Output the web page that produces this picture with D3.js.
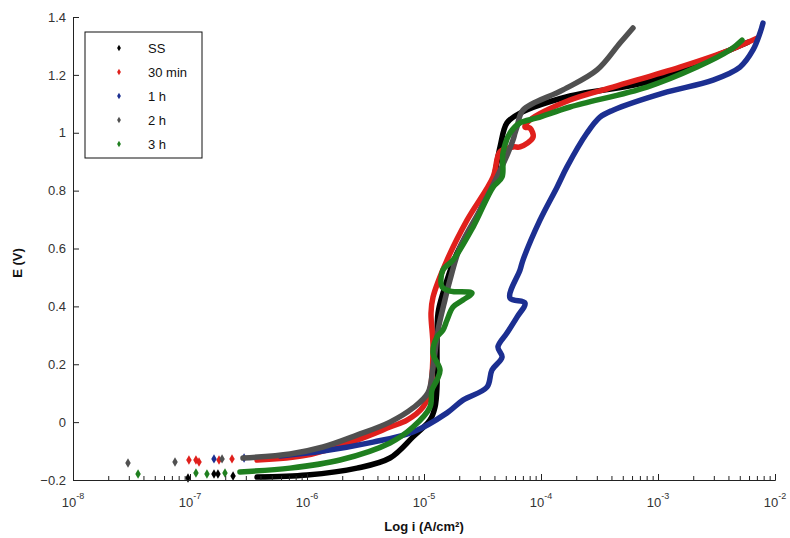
<!DOCTYPE html>
<html>
<head>
<meta charset="utf-8">
<script src="https://cdn.jsdelivr.net/npm/d3@7"></script>
<style>
  body { margin: 0; background: #fff; }
  text { font-family: "Liberation Sans", Arial, sans-serif; }
</style>
</head>
<body>
<div id="chart"></div>
<script>
// series names + colours (legend order)
var seriesNames = ["SS", "30 min", "1 h", "2 h", "3 h"];
var seriesColors = ["#000000", "#e0201c", "#1c2f91", "#505050", "#1f7f1f"];

// values are log10(i) and E (V)
// scattered points at low current (drawn as single markers)
var ssTailLogI = [-7.017, -6.795, -6.761, -6.632];
var ssTailE    = [-0.193, -0.179, -0.179, -0.186];
var m30TailLogI = [-7.009, -6.949, -6.923, -6.752, -6.641];
var m30TailE    = [-0.131, -0.131, -0.138, -0.131, -0.127];
var h1TailLogI = [-6.795, -6.538];
var h1TailE    = [-0.127, -0.124];
var h2TailLogI = [-7.530, -7.128, -6.726];
var h2TailE    = [-0.141, -0.138, -0.127];
var h3TailLogI = [-7.444, -6.949, -6.855, -6.701];
var h3TailE    = [-0.179, -0.176, -0.179, -0.176];

// continuous parts
var ssLogI = [-6.427, -6.0, -5.573, -5.291, -5.094, -4.949, -4.906, -4.889, -4.889, -4.880, -4.838, -4.718, -4.547, -4.410, -4.350, -4.291, -4.179, -3.752, -3.094, -2.530, -2.231];
var ssE    = [-0.190, -0.183, -0.159, -0.124, -0.051, 0.007, 0.052, 0.121, 0.260, 0.377, 0.446, 0.584, 0.709, 0.837, 0.951, 1.034, 1.068, 1.127, 1.175, 1.262, 1.313];

var m30LogI = [-6.427, -6.0, -5.573, -5.291, -5.145, -5.009, -4.949, -4.923, -4.940, -4.923, -4.803, -4.632, -4.410, -4.350, -4.239, -4.179, -4.068, -4.094, -4.137, -4.094, -3.752, -3.385, -2.812, -2.385, -2.154];
var m30E    = [-0.131, -0.114, -0.062, -0.017, 0.007, 0.052, 0.111, 0.260, 0.377, 0.432, 0.560, 0.698, 0.847, 0.935, 0.951, 0.951, 0.985, 1.016, 1.020, 1.044, 1.113, 1.158, 1.227, 1.286, 1.327];

var h1LogI = [-6.231, -5.863, -5.436, -5.094, -4.803, -4.667, -4.462, -4.419, -4.333, -4.368, -4.291, -4.205, -4.137, -4.265, -4.179, -4.154, -4.009, -3.863, -3.778, -3.607, -3.496, -3.385, -2.957, -2.530, -2.299, -2.188, -2.128, -2.103];
var h1E    = [-0.117, -0.100, -0.069, -0.034, 0.032, 0.076, 0.121, 0.180, 0.225, 0.260, 0.308, 0.363, 0.412, 0.429, 0.526, 0.560, 0.698, 0.812, 0.882, 0.999, 1.054, 1.078, 1.137, 1.182, 1.227, 1.286, 1.345, 1.379];

var h2LogI = [-6.547, -6.145, -5.863, -5.573, -5.291, -5.094, -4.966, -4.923, -4.880, -4.821, -4.778, -4.692, -4.521, -4.376, -4.282, -4.239, -4.222, -4.205, -4.154, -3.812, -3.521, -3.325, -3.214];
var h2E    = [-0.124, -0.110, -0.086, -0.045, 0.0, 0.049, 0.101, 0.190, 0.318, 0.422, 0.491, 0.605, 0.733, 0.847, 0.930, 0.975, 0.999, 1.020, 1.078, 1.148, 1.217, 1.310, 1.362];

var h3LogI = [-6.573, -6.145, -5.718, -5.291, -5.094, -4.949, -4.932, -4.889, -4.863, -4.923, -4.889, -4.838, -4.803, -4.752, -4.667, -4.590, -4.778, -4.846, -4.838, -4.752, -4.581, -4.410, -4.333, -4.325, -4.265, -4.179, -4.034, -3.752, -3.094, -2.667, -2.385, -2.282];
var h3E    = [-0.172, -0.159, -0.131, -0.072, -0.017, 0.052, 0.111, 0.146, 0.180, 0.239, 0.294, 0.318, 0.353, 0.398, 0.422, 0.446, 0.453, 0.467, 0.526, 0.560, 0.674, 0.812, 0.847, 0.930, 0.999, 1.034, 1.051, 1.089, 1.158, 1.227, 1.286, 1.320];

var xTickExp = [-8, -7, -6, -5, -4, -3, -2];
var yTicks = [-0.2, 0, 0.2, 0.4, 0.6, 0.8, 1, 1.2, 1.4];

var curveLogI = [ssLogI, m30LogI, h1LogI, h2LogI, h3LogI];
var curveE = [ssE, m30E, h1E, h2E, h3E];
var tailLogI = [ssTailLogI, m30TailLogI, h1TailLogI, h2TailLogI, h3TailLogI];
var tailE = [ssTailE, m30TailE, h1TailE, h2TailE, h3TailE];

var W = 790, H = 538;
var margin = {top: 17, right: 15, bottom: 58, left: 73};
var width = W - margin.left - margin.right,
    height = H - margin.top - margin.bottom;

var svg = d3.select("#chart").append("svg")
    .attr("width", W)
    .attr("height", H)
  .append("g")
    .attr("transform", "translate(" + margin.left + "," + margin.top + ")");

var x = d3.scaleLog().domain([1e-8, 1e-2]).range([0, width]);
var y = d3.scaleLinear().domain([-0.2, 1.4]).range([height, 0]);

function toPoints(li, e) {
    var pts = [];
    for (var i = 0; i < li.length; i++) pts.push({i: Math.pow(10, li[i]), e: e[i]});
    return pts;
}

var line = d3.line()
    .x(function(d) { return x(d.i); })
    .y(function(d) { return y(d.e); })
    .curve(d3.curveCatmullRom.alpha(0.5));

var diamond = d3.symbol().type(d3.symbolDiamond).size(26);

// curves, drawn in legend order so 3 h ends on top
for (var s = 0; s < seriesNames.length; s++) {
    svg.append("path")
        .datum(toPoints(curveLogI[s], curveE[s]))
        .attr("d", line)
        .attr("fill", "none")
        .attr("stroke", seriesColors[s])
        .attr("stroke-width", 5.5)
        .attr("stroke-linejoin", "round")
        .attr("stroke-linecap", "round");

    svg.selectAll(".tail" + s)
        .data(toPoints(tailLogI[s], tailE[s]))
        .enter().append("path")
        .attr("class", "tail" + s)
        .attr("d", diamond)
        .attr("transform", function(d) { return "translate(" + x(d.i) + "," + y(d.e) + ")"; })
        .attr("fill", seriesColors[s]);
}

// x axis, ticks pointing inward
var minor = [];
xTickExp.slice(0, -1).forEach(function(p) {
    for (var k = 2; k <= 9; k++) minor.push(k * Math.pow(10, p));
});
var xAxis = svg.append("g")
    .attr("transform", "translate(0," + height + ")");
xAxis.call(d3.axisBottom(x)
    .tickValues(xTickExp.map(function(p) { return Math.pow(10, p); }))
    .tickSize(-6).tickFormat(""));
xAxis.append("g").call(d3.axisBottom(x).tickValues(minor).tickSize(-4).tickFormat(""))
    .select(".domain").remove();
xAxis.selectAll(".domain, line").attr("stroke", "#222");

// tick labels 10^n
xTickExp.forEach(function(p) {
    var t = svg.append("text")
        .attr("x", x(Math.pow(10, p)))
        .attr("y", height + 27)
        .attr("text-anchor", "middle")
        .attr("font-size", 13)
        .attr("fill", "#333");
    t.append("tspan").text("10");
    t.append("tspan").attr("dy", -8).attr("font-size", 9).text(p);
});

// y axis
var yAxis = svg.append("g")
    .call(d3.axisLeft(y).tickValues(yTicks).tickSize(-6).tickPadding(10)
        .tickFormat(function(d) { return d3.format("")(+d.toFixed(1)); }));
yAxis.selectAll(".domain, line").attr("stroke", "#222");
yAxis.selectAll("text")
    .attr("font-size", 13)
    .attr("fill", "#333")
    .attr("font-family", "Liberation Sans, Arial, sans-serif")
    .attr("dx", 3);

// axis titles
svg.append("text")
    .attr("x", x(1e-5))
    .attr("y", height + 51)
    .attr("text-anchor", "middle")
    .attr("font-size", 13)
    .attr("font-weight", "bold")
    .attr("fill", "#111")
    .text("Log i (A/cm²)");

svg.append("text")
    .attr("transform", "rotate(-90)")
    .attr("x", -(y(0.55)))
    .attr("y", -51)
    .attr("text-anchor", "middle")
    .attr("font-size", 13)
    .attr("font-weight", "bold")
    .attr("fill", "#111")
    .text("E (V)");

// legend
var legend = svg.append("g").attr("transform", "translate(12,15)");
legend.append("rect")
    .attr("width", 117)
    .attr("height", 126)
    .attr("fill", "#fff")
    .attr("stroke", "#111")
    .attr("stroke-width", 1);
seriesNames.forEach(function(name, i) {
    var row = legend.append("g").attr("transform", "translate(0," + (16 + i * 24) + ")");
    row.append("path")
        .attr("d", d3.symbol().type(d3.symbolDiamond).size(12))
        .attr("transform", "translate(34,0)")
        .attr("fill", seriesColors[i]);
    row.append("text")
        .attr("x", 63)
        .attr("y", 5)
        .attr("font-size", 13)
        .attr("fill", "#111")
        .text(name);
});
</script>
</body>
</html>
